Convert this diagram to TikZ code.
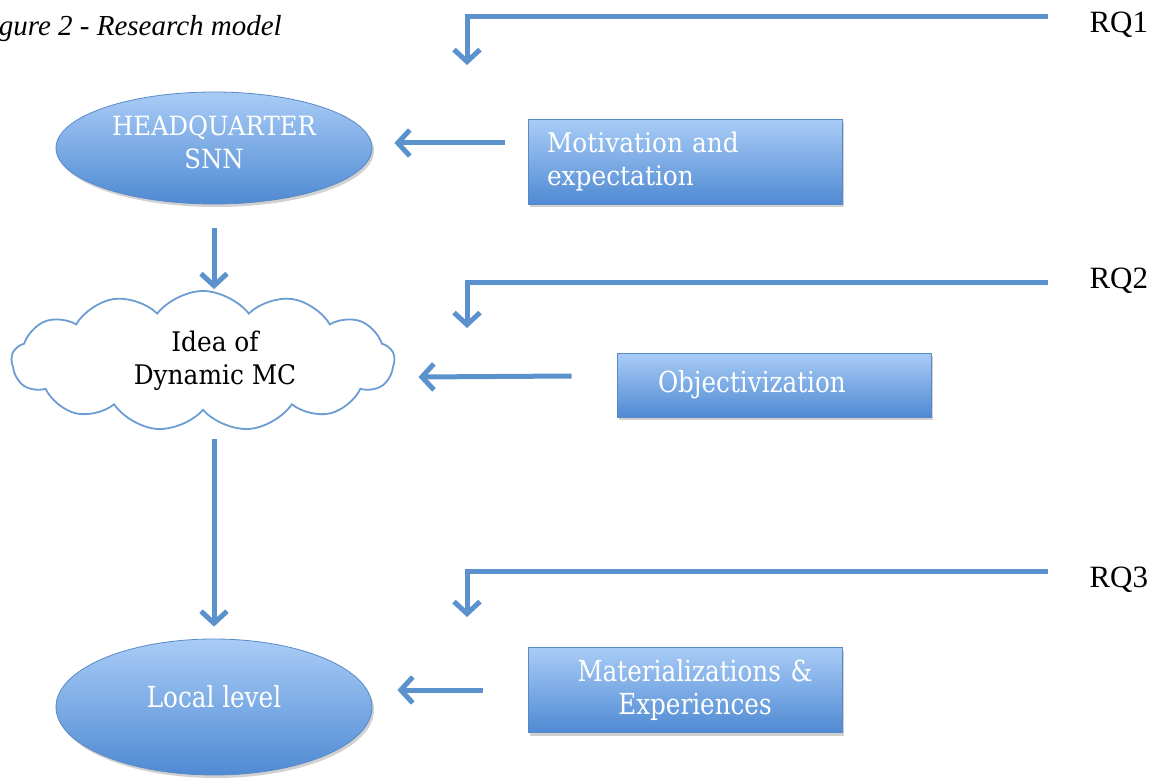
\documentclass[tikz,border=0pt]{standalone}
\usepackage{fontspec}
\setmainfont{Liberation Serif}
\newfontfamily\boxfont[FakeStretch=0.92]{DejaVu Serif}
\newfontfamily\condfont[FakeStretch=0.85]{DejaVu Serif}
\usetikzlibrary{arrows.meta,shapes.geometric,shapes.symbols,shadows}
\definecolor{arrowblue}{HTML}{5B91CC}
\definecolor{toplight}{HTML}{A9CCF6}
\definecolor{botdark}{HTML}{4F8AD3}
\definecolor{edgeblue}{HTML}{5A8AC6}
\definecolor{cloudline}{HTML}{6C9DD2}
\tikzset{
  flow/.style={draw=arrowblue, line width=5pt, line join=miter,
    -{Straight Barb[length=12pt,width=26pt]}},
  blueshade/.style={draw=edgeblue, line width=0.8pt, top color=toplight, bottom color=botdark,
    drop shadow={shadow xshift=2pt, shadow yshift=-3pt, opacity=0.3, fill=black!60},
    text=white, inner sep=0pt},
  bluebox/.style={blueshade, rectangle, minimum width=314pt, minimum height=85pt},
  blueell/.style={blueshade, ellipse, minimum width=316pt, align=center},
  rq/.style={anchor=west, font=\fontsize{31}{34}\selectfont},
}
\begin{document}
\begin{tikzpicture}[x=1pt,y=-1pt]
\useasboundingbox (0,0) rectangle (1160,778);
% title
\node[anchor=base east, font=\itshape\fontsize{29}{33}\selectfont, inner sep=0pt] (title) at (282,36) {Figure 2 - Research model};
% main nodes
\node[blueell, minimum height=112pt, font=\boxfont\fontsize{26.5}{33}\selectfont] (hq) at (214,148) {HEADQUARTER\\SNN\\[-22pt]};
\node[cloud, cloud puffs=13, cloud puff arc=105, aspect=2.7, draw=cloudline, line width=1.8pt, fill=white,
      minimum width=383pt, minimum height=140pt, inner sep=0pt, align=center,
      font=\boxfont\fontsize{27}{33}\selectfont] (cloud) at (203,361) {\hspace*{24pt}Idea of\\\hspace*{24pt}Dynamic MC\\[-26pt]};
\node[blueell, minimum height=136pt, font=\condfont\fontsize{29}{33}\selectfont] (local) at (214,707) {Local level\\[-12pt]};
% boxes
\node[bluebox, text width=276pt, align=left, font=\boxfont\fontsize{27}{33}\selectfont] (mot) at (685,162) {Motivation and\\expectation};
\node[bluebox, minimum height=64pt, text width=232pt, align=left, font=\condfont\fontsize{29}{33}\selectfont] (obj) at (774,385) {Objectivization};
\node[bluebox, text width=276pt, align=center, font=\condfont\fontsize{29}{33}\selectfont] (mat) at (685,690) {\hspace*{20pt}Materializations \&\\\hspace*{20pt}Experiences};
% connectors
\draw[flow] ([xshift=-23pt,yshift=19pt]mot.west) -- ([xshift=22pt,yshift=5pt]hq.east);
\draw[flow] ([xshift=-45pt,yshift=9pt]obj.west) -- ([xshift=23pt,yshift=-16pt]cloud.east);
\draw[flow] ([xshift=-45pt]mat.west) -- ([xshift=25pt,yshift=17pt]local.east);
\draw[flow] ([yshift=-24pt]hq.south) -- ([yshift=1pt]hq.south |- cloud.north);
\draw[flow] ([yshift=-28pt]local.north |- cloud.south) -- ([yshift=12pt]local.north);
% RQ
\node[rq] (rq1) at (1086,25) {RQ1};
\node[rq] (rq2) at (1086,281) {RQ2};
\node[rq] (rq3) at (1086,580) {RQ3};
\coordinate (rq1a) at (1048,17);  \coordinate (rq1b) at (467,65);
\coordinate (rq2a) at (1048,283); \coordinate (rq2b) at (467,328);
\coordinate (rq3a) at (1048,571); \coordinate (rq3b) at (467,617);
\draw[flow] (rq1a) -| (rq1b);
\draw[flow] (rq2a) -| (rq2b);
\draw[flow] (rq3a) -| (rq3b);
\end{tikzpicture}
\end{document}
